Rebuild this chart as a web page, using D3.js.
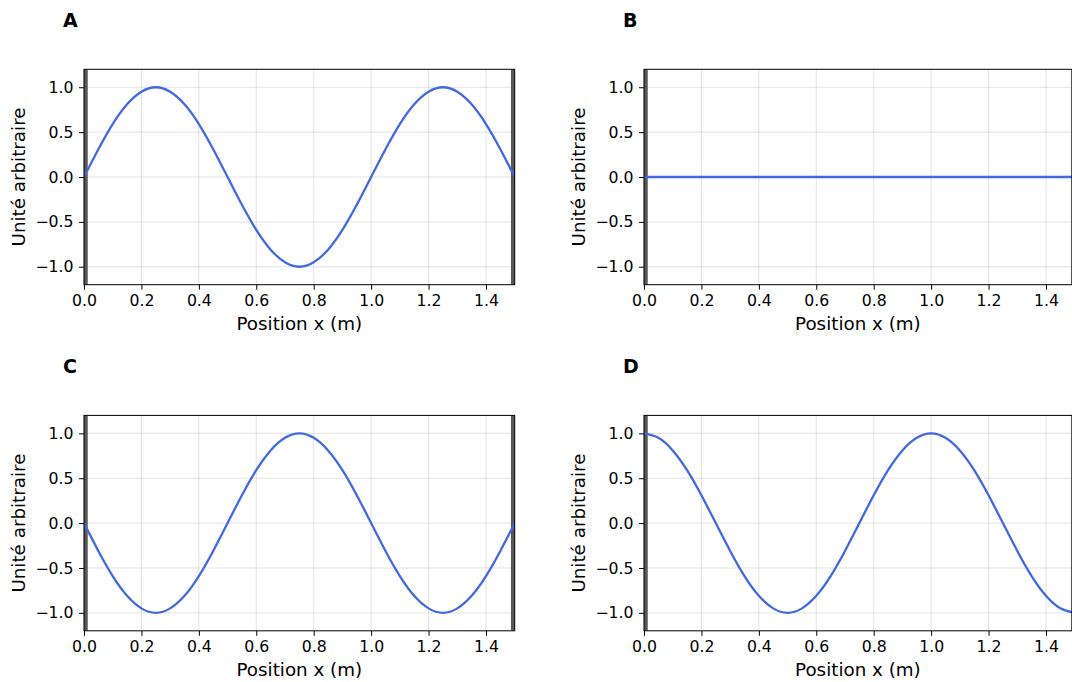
<!DOCTYPE html>
<html>
<head>
<meta charset="utf-8">
<script src="https://cdn.jsdelivr.net/npm/d3@7"></script>
<style>
  html, body { margin: 0; padding: 0; background: #ffffff; }
  svg { display: block; }
  text { font-family: "DejaVu Sans", sans-serif; }
</style>
</head>
<body>
<script>
// Sample positions along the string (m)
const positions = [0, 0.05, 0.10, 0.15, 0.20, 0.25, 0.30, 0.35, 0.40, 0.45,
                   0.50, 0.55, 0.60, 0.65, 0.70, 0.75, 0.80, 0.85, 0.90, 0.95,
                   1.00, 1.05, 1.10, 1.15, 1.20, 1.25, 1.30, 1.35, 1.40, 1.45, 1.50];

// Displacement in each panel at those positions
const waveA = [0, 0.31, 0.59, 0.81, 0.95, 1.00, 0.95, 0.81, 0.59, 0.31,
               0, -0.31, -0.59, -0.81, -0.95, -1.00, -0.95, -0.81, -0.59, -0.31,
               0, 0.31, 0.59, 0.81, 0.95, 1.00, 0.95, 0.81, 0.59, 0.31, 0];
const waveB = [0, 0, 0, 0, 0, 0, 0, 0, 0, 0,
               0, 0, 0, 0, 0, 0, 0, 0, 0, 0,
               0, 0, 0, 0, 0, 0, 0, 0, 0, 0, 0];
const waveC = [0, -0.31, -0.59, -0.81, -0.95, -1.00, -0.95, -0.81, -0.59, -0.31,
               0, 0.31, 0.59, 0.81, 0.95, 1.00, 0.95, 0.81, 0.59, 0.31,
               0, -0.31, -0.59, -0.81, -0.95, -1.00, -0.95, -0.81, -0.59, -0.31, 0];
const waveD = [1.00, 0.95, 0.81, 0.59, 0.31, 0, -0.31, -0.59, -0.81, -0.95,
               -1.00, -0.95, -0.81, -0.59, -0.31, 0, 0.31, 0.59, 0.81, 0.95,
               1.00, 0.95, 0.81, 0.59, 0.31, 0, -0.31, -0.59, -0.81, -0.95, -1.00];

const panelTitles = ["A", "B", "C", "D"];
const panelWaves = [waveA, waveB, waveC, waveD];
// Fixed ends (walls) drawn in each panel, in metres
const panelWalls = [[0, 1.5], [0], [0, 1.5], [0]];
// Upper x limit of each panel
const panelXMax = [1.5, 1.49, 1.5, 1.49];

const xTicks = [0, 0.2, 0.4, 0.6, 0.8, 1.0, 1.2, 1.4];
const yTicks = [-1.0, -0.5, 0, 0.5, 1.0];
const yDomain = [-1.2, 1.2];

const xLabel = "Position x (m)";
const yLabel = "Unité arbitraire";

// Layout
const W = 1072, H = 682;
const colLeft = [84, 644];
const rowTop = [69.3, 415.4];
const plotH = 215.4;
const pxPerMetre = 430.7 / 1.5;

const tickFont = 15.7, labelFont = 18.3, titleFont = 19;
const lineColor = "#4169e1";

const svg = d3.select("body").append("svg")
  .attr("width", W).attr("height", H);

const fmt = d3.format(".1f");

panelTitles.forEach((title, i) => {
  const col = i % 2, row = Math.floor(i / 2);
  const left = colLeft[col], top = rowTop[row];
  const xMax = panelXMax[i];
  const plotW = xMax * pxPerMetre;

  const x = d3.scaleLinear().domain([0, xMax]).range([left, left + plotW]);
  const y = d3.scaleLinear().domain(yDomain).range([top + plotH, top]);

  const g = svg.append("g");
  const clipId = "clip" + i;
  svg.append("clipPath").attr("id", clipId)
    .append("rect").attr("x", left).attr("y", top)
    .attr("width", plotW).attr("height", plotH);

  // grid
  const grid = g.append("g").attr("class", "grid");
  grid.selectAll("line.gx").data(xTicks.filter(t => t <= xMax)).join("line")
    .attr("x1", d => x(d)).attr("x2", d => x(d))
    .attr("y1", top).attr("y2", top + plotH)
    .attr("stroke", "#b0b0b0").attr("stroke-opacity", 0.4).attr("stroke-width", 0.9);
  grid.selectAll("line.gy").data(yTicks).join("line")
    .attr("x1", left).attr("x2", left + plotW)
    .attr("y1", d => y(d)).attr("y2", d => y(d))
    .attr("stroke", "#b0b0b0").attr("stroke-opacity", 0.4).attr("stroke-width", 0.9);

  // walls
  g.append("g").attr("clip-path", `url(#${clipId})`)
    .selectAll("line").data(panelWalls[i]).join("line")
    .attr("x1", d => x(d)).attr("x2", d => x(d))
    .attr("y1", top).attr("y2", top + plotH)
    .attr("stroke", "#585858").attr("stroke-width", 7.5);

  // wave
  const pts = positions.map((p, k) => [p, panelWaves[i][k]]);
  const line = d3.line().x(d => x(d[0])).y(d => y(d[1])).curve(d3.curveNatural);
  g.append("path").attr("clip-path", `url(#${clipId})`)
    .datum(pts).attr("d", line)
    .attr("fill", "none").attr("stroke", lineColor)
    .attr("stroke-width", 2.3).attr("stroke-linejoin", "round");

  // frame
  g.append("rect").attr("x", left).attr("y", top)
    .attr("width", plotW).attr("height", plotH)
    .attr("fill", "none").attr("stroke", "#000").attr("stroke-width", 1);

  // axes
  const xAxis = g.append("g").attr("transform", `translate(0,${top + plotH})`)
    .call(d3.axisBottom(x).tickValues(xTicks).tickFormat(fmt)
      .tickSize(5).tickPadding(5.5));
  const yAxis = g.append("g").attr("transform", `translate(${left},0)`)
    .call(d3.axisLeft(y).tickValues(yTicks).tickFormat(fmt)
      .tickSize(5).tickPadding(5.5));
  [xAxis, yAxis].forEach(a => {
    a.select(".domain").remove();
    a.selectAll(".tick line").attr("stroke", "#000").attr("stroke-width", 1);
    a.selectAll(".tick text").attr("fill", "#000")
      .style("font-size", tickFont + "px").style("font-family", "DejaVu Sans");
  });

  // axis labels
  g.append("text")
    .attr("x", left + plotW / 2).attr("y", top + plotH + 45.3)
    .attr("text-anchor", "middle").style("font-size", labelFont + "px")
    .attr("fill", "#000").text(xLabel);
  g.append("text")
    .attr("transform", `translate(${left - 59},${top + plotH / 2}) rotate(-90)`)
    .attr("text-anchor", "middle").style("font-size", labelFont + "px")
    .attr("fill", "#000").text(yLabel);

  // panel letter
  g.append("text")
    .attr("x", left - 21).attr("y", top - 42)
    .style("font-size", titleFont + "px").style("font-weight", "bold")
    .attr("fill", "#000").text(title);
});
</script>
</body>
</html>
